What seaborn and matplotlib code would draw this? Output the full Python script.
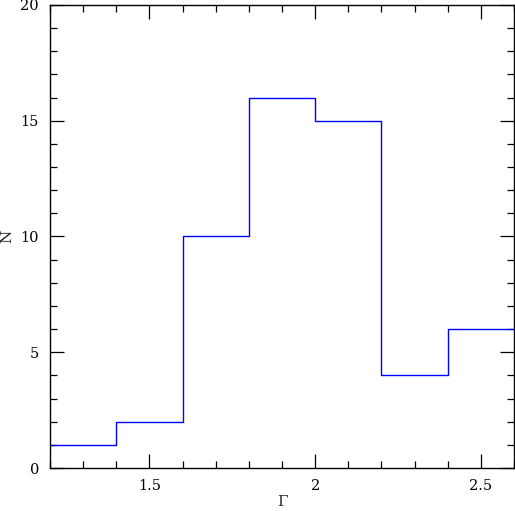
import matplotlib
matplotlib.use("Agg")
import matplotlib.pyplot as plt
from matplotlib.ticker import MultipleLocator, FixedFormatter, FixedLocator
import seaborn as sns
import pandas as pd

# histogram of photon index
bin_edges = [1.2, 1.4, 1.6, 1.8, 2.0, 2.2, 2.4, 2.6]
counts = [1, 2, 10, 16, 15, 4, 6]

bin_centers = [(a + b) / 2 for a, b in zip(bin_edges[:-1], bin_edges[1:])]
df = pd.DataFrame({"gamma": bin_centers, "n": counts})

sns.set_style("ticks")
plt.rcParams['font.family'] = ['DejaVu Serif']

fig = plt.figure(figsize=(5.15, 5.11), dpi=100)
ax = fig.add_axes([50 / 515, 43 / 511, 464 / 515, 463 / 511])

sns.histplot(data=df, x="gamma", weights="n", bins=bin_edges, element="step",
             fill=False, color="#0000ff", linewidth=1.0, ax=ax)

ax.set_xlim(1.2, 2.6)
ax.set_ylim(0, 20)
ax.xaxis.set_major_locator(FixedLocator([1.5, 2.0, 2.5]))
ax.xaxis.set_major_formatter(FixedFormatter(["1.5", "2", "2.5"]))
ax.xaxis.set_minor_locator(MultipleLocator(0.1))
ax.yaxis.set_major_locator(MultipleLocator(5))
ax.yaxis.set_minor_locator(MultipleLocator(1))

ax.tick_params(which="both", direction="in", top=True, right=True, colors="black",
               labelsize=10.5, width=0.9)
ax.tick_params(which="major", length=10, pad=8)
ax.tick_params(which="minor", length=5)
for s in ax.spines.values():
    s.set_visible(True)
    s.set_linewidth(1.0)
    s.set_color("black")

ax.set_xlabel("Γ", fontsize=11, labelpad=1)
ax.set_ylabel("N", fontsize=11, labelpad=4)

fig.savefig("out.png", dpi=100)
